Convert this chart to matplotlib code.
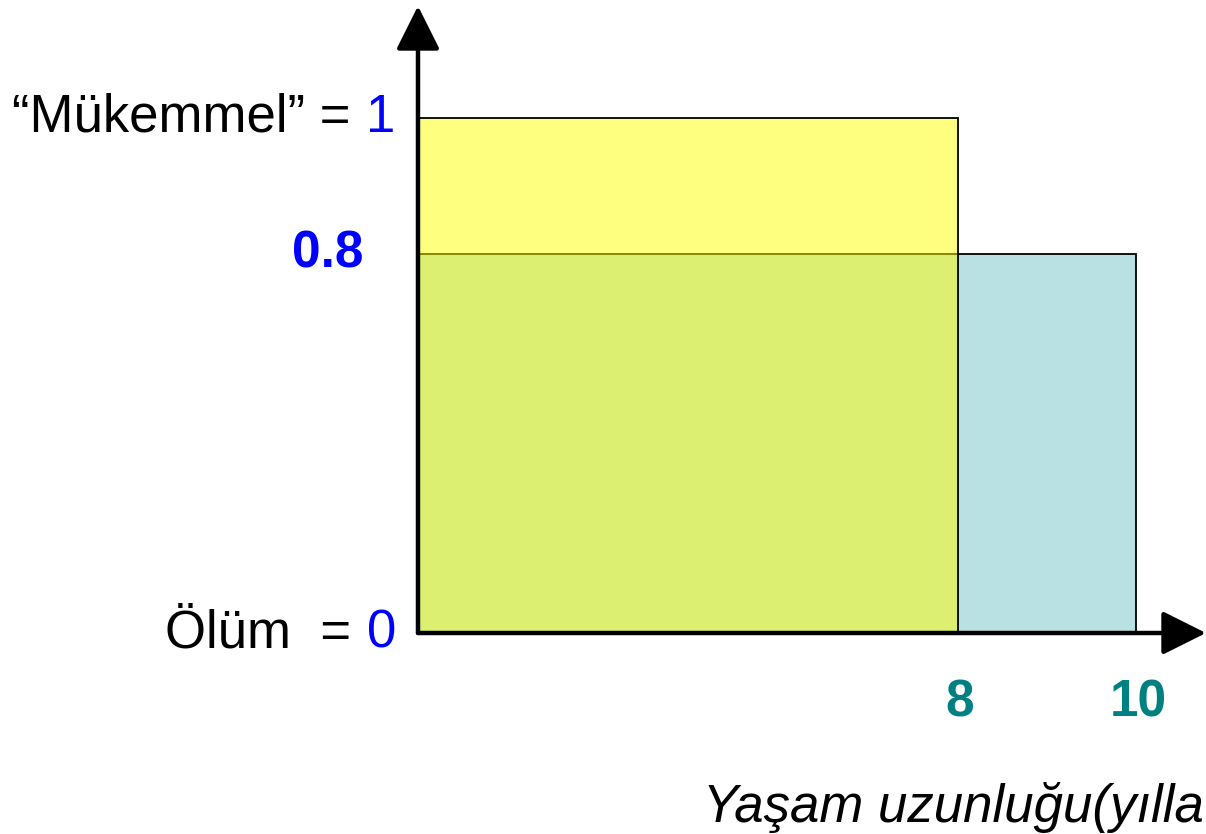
import matplotlib
matplotlib.use("Agg")
import matplotlib.pyplot as plt
import numpy as np

plt.rcParams['font.family'] = ['Liberation Sans', 'DejaVu Sans']

# data: two health states (years lived, quality weight)
years = [8, 10]
quality = [1.0, 0.8]
year_labels = ['8', '10']
quality_labels = ['0.8']

# schematic (not to scale) axes, as in the original slide
x_knots = [0, 8, 10, 12]
x_pos = [0, 540, 718, 807]
y_knots = [0, 0.8, 1, 1.3]
y_pos = [0, 379, 515, 719]

def fx(v):
    return np.interp(v, x_knots, x_pos)

def ix(v):
    return np.interp(v, x_pos, x_knots)

def fy(v):
    return np.interp(v, y_knots, y_pos)

def iy(v):
    return np.interp(v, y_pos, y_knots)

fig = plt.figure(figsize=(12.06, 8.34), dpi=100)
ax = fig.add_axes([418 / 1206, (834 - 633) / 834, 788 / 1206, 627 / 834])
ax.set_xscale('function', functions=(fx, ix))
ax.set_yscale('function', functions=(fy, iy))
ax.set_xlim(0, float(ix(788)))
ax.set_ylim(0, float(iy(627)))

for s in ax.spines.values():
    s.set_visible(False)
ax.set_xticks([])
ax.set_yticks([])
ax.minorticks_off()

# longer life at lower quality
ax.bar(0, quality[1], width=years[1], align='edge',
       color='#b9e0e2', edgecolor='black', linewidth=1.3, zorder=1)
# shorter life at perfect health (semi-transparent yellow)
ax.bar(0, quality[0], width=years[0], align='edge',
       facecolor=(1, 1, 0, 0.5), edgecolor='black', linewidth=1.3, zorder=2)

# axes with arrow heads
arrow = dict(arrowstyle='-|>,head_length=0.9,head_width=0.45', lw=3.2,
             color='black', mutation_scale=30, shrinkA=0, shrinkB=0)
ax.annotate('', xy=(1, 0), xytext=(0, 0), xycoords='axes fraction',
            arrowprops=arrow, annotation_clip=False, zorder=5)
ax.annotate('', xy=(0, 1), xytext=(0, 0), xycoords='axes fraction',
            arrowprops=arrow, annotation_clip=False, zorder=5)

# y labels
ax.annotate('“Mükemmel” =', xy=(0, quality[0]), xytext=(-67, 0),
            textcoords='offset pixels', ha='right', va='center',
            fontsize=38, color='black', annotation_clip=False)
ax.annotate('1', xy=(0, quality[0]), xytext=(-52, 0),
            textcoords='offset pixels', ha='left', va='center',
            fontsize=38, color='#0000ff', annotation_clip=False)
ax.annotate(quality_labels[0], xy=(0, quality[1]), xytext=(-55, 0),
            textcoords='offset pixels', ha='right', va='center',
            fontsize=37, fontweight='bold', color='#0000ff',
            annotation_clip=False)
ax.annotate('Ölüm  =', xy=(0, 0), xytext=(-67, 0),
            textcoords='offset pixels', ha='right', va='center',
            fontsize=38, color='black', annotation_clip=False)
ax.annotate('0', xy=(0, 0), xytext=(-51, 0),
            textcoords='offset pixels', ha='left', va='center',
            fontsize=38, color='#0000ff', annotation_clip=False)

# x labels
for xv, lab in zip(years, year_labels):
    ax.annotate(lab, xy=(xv, 0), xytext=(2, -70), textcoords='offset pixels',
                ha='center', va='center', fontsize=37, fontweight='bold',
                color='#008080', annotation_clip=False)

# axis title, cut at the slide edge as in the original
fig.text(1204 / 1206, (834 - 822) / 834, 'Yaşam uzunluğu(yılla',
         ha='right', va='baseline', fontsize=38, style='italic')

fig.savefig('out.png', dpi=100)
